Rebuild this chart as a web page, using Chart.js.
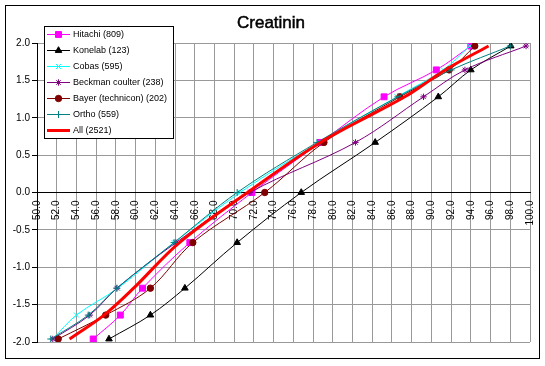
<!DOCTYPE html>
<html>
<head>
<meta charset="utf-8">
<script src="https://cdn.jsdelivr.net/npm/chart.js@4.4.0/dist/chart.umd.min.js"></script>
<style>
  body { margin: 0; background: #fff; }
  #wrap { width: 545px; height: 366px; }
</style>
</head>
<body>
<div id="wrap"><canvas id="creatChart" width="545" height="366"></canvas></div>
<script>
// Datos del grafico (percentiles -> z)
var zScores = [-1.96, -1.64, -1.28, -0.67, 0, 0.67, 1.28, 1.64, 1.96];
var seriesNames = ['Hitachi (809)', 'Konelab (123)', 'Cobas (595)', 'Beckman coulter (238)', 'Bayer (technicon) (202)', 'Ortho (559)', 'All (2521)'];
var hitachi = [55.7, 58.45, 60.7, 65.5, 71.8, 78.75, 85.2, 90.5, 94.0];
var konelab = [57.3, 61.5, 65.0, 70.3, 76.8, 84.3, 90.7, 94.0, 98.05];
var cobas   = [51.6, 54.0, 58.2, 63.9, 70.6, 78.6, 86.5, 91.2, 93.9];
var beckman = [51.6, 55.35, 58.1, 64.1, 71.6, 82.3, 89.2, 93.4, 99.6];
var bayer   = [52.15, 56.97, 61.5, 65.8, 73.1, 79.1, 86.8, 91.8, 94.4];
var ortho   = [51.4, 55.2, 58.1, 63.9, 70.3, 78.4, 86.6, 92.0, 98.0];
var all     = [53.3, 56.8, 59.8, 64.45, 71.35, 78.75, 87.3, 91.4, 95.8];
var xTicks = { min: 50, max: 100, step: 2 };
var yTicks = { min: -2, max: 2, step: 0.5 };

var colors  = ['#ff00ff', '#000000', '#00ffff', '#800080', '#800000', '#008080', '#ff0000'];
var styles  = ['rect', 'triangle', 'crossRot', 'star', 'circle', 'cross', false];
var radii   = [4.2, 3.8, 3.5, 3.2, 3.2, 3.5, 0];
var widths  = [1, 1, 1, 1, 1, 1, 3];
var values  = [hitachi, konelab, cobas, beckman, bayer, ortho, all];

function toPoints(xs) {
    return xs.map(function (x, i) { return { x: x, y: zScores[i] }; });
}

var datasets = values.map(function (xs, i) {
    return {
        label: seriesNames[i],
        data: toPoints(xs),
        showLine: true,
        borderColor: colors[i],
        backgroundColor: colors[i],
        borderWidth: widths[i],
        pointStyle: styles[i],
        pointRadius: radii[i],
        pointBorderWidth: 1,
        tension: 0.35,
        order: values.length - i  // las primeras series quedan debajo
    };
});

var FONT = 'Liberation Sans, Arial, sans-serif';

// Marco, titulo y leyenda dibujados a mano
var decor = {
    id: 'decor',
    beforeDraw: function (chart) {
        var ctx = chart.ctx;
        ctx.save();
        ctx.fillStyle = '#fff';
        ctx.fillRect(0, 0, chart.width, chart.height);
        ctx.restore();
    },
    afterDraw: function (chart) {
        var ctx = chart.ctx;
        ctx.save();
        // borde exterior
        ctx.strokeStyle = '#000';
        ctx.lineWidth = 1;
        ctx.strokeRect(5.5, 5.5, 534, 353);
        // titulo (un poco engrosado)
        ctx.fillStyle = '#000';
        ctx.font = '17px ' + FONT;
        ctx.textAlign = 'center';
        ctx.textBaseline = 'middle';
        ctx.lineWidth = 0.5;
        ctx.fillText('Creatinin', 271, 23);
        ctx.strokeText('Creatinin', 271, 23);
        // leyenda
        ctx.lineWidth = 1;
        ctx.fillStyle = '#fff';
        ctx.fillRect(44.5, 26.5, 129, 112);
        ctx.strokeStyle = '#000';
        ctx.strokeRect(44.5, 26.5, 129, 112);
        ctx.font = '9px ' + FONT;
        ctx.textAlign = 'left';
        for (var i = 0; i < seriesNames.length; i++) {
            var y = Math.round(33.5 + i * 16.1) + 0.5;
            ctx.strokeStyle = colors[i];
            ctx.fillStyle = colors[i];
            ctx.lineWidth = widths[i];
            ctx.beginPath();
            ctx.moveTo(47, y);
            ctx.lineTo(70, y);
            ctx.stroke();
            if (styles[i] && Chart.helpers && Chart.helpers.drawPoint) {
                ctx.lineWidth = 1;
                Chart.helpers.drawPoint(ctx, { pointStyle: styles[i], radius: radii[i], borderWidth: 1, rotation: 0 }, 58.5, y);
            }
            ctx.fillStyle = '#000';
            ctx.fillText(seriesNames[i], 73, y);
        }
        ctx.restore();
    }
};

var ctx = document.getElementById('creatChart').getContext('2d');
var creatChart = new Chart(ctx, {
    type: 'scatter',
    data: { datasets: datasets },
    options: {
        responsive: false,
        animation: false,
        layout: { padding: { left: 0, top: 43, right: 13, bottom: 24 } },
        plugins: {
            legend: { display: false },
            title: { display: false },
            tooltip: { enabled: false }
        },
        scales: {
            x: {
                type: 'linear',
                position: { y: 0 },
                min: xTicks.min,
                max: xTicks.max,
                afterFit: function (s) { s.height = 0; },
                ticks: {
                    stepSize: xTicks.step,
                    autoSkip: false,
                    minRotation: 90,
                    maxRotation: 90,
                    padding: 3,
                    color: '#000',
                    font: { family: FONT, size: 10 },
                    callback: function (v) { return v.toFixed(1); }
                },
                grid: { color: '#999999', tickLength: 5, tickColor: '#999999' },
                border: { color: '#000', width: 1 }
            },
            y: {
                min: yTicks.min,
                max: yTicks.max,
                afterFit: function (s) { s.width = 37; },
                ticks: {
                    stepSize: yTicks.step,
                    padding: 2,
                    color: '#000',
                    font: { family: FONT, size: 10 },
                    callback: function (v) { return v.toFixed(1); }
                },
                grid: { color: '#999999', tickLength: 5, tickColor: '#000' },
                border: { color: '#000', width: 1 }
            }
        }
    },
    plugins: [decor]
});
</script>
</body>
</html>
